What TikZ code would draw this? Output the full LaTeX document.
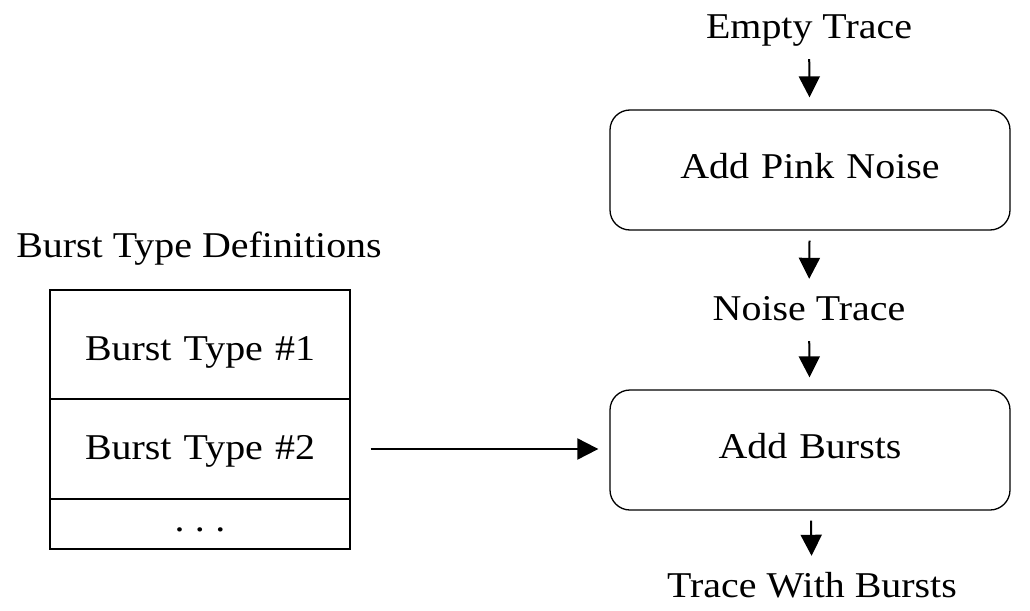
\documentclass[tikz,border=0pt]{standalone}
\usepackage{fontspec}
\setmainfont[FakeStretch=1.1]{Liberation Serif}
\usetikzlibrary{arrows.meta}
\tikzset{
  lbl/.style={inner sep=0pt, anchor=base, text height=41pt, text depth=21pt},
  procbox/.style={draw=black, line width=1.3pt, rounded corners=20pt, inner sep=0pt,
    anchor=base, text width=400pt, align=center, text height=68pt, text depth=52pt},
  cell/.style={draw=black, line width=1.1pt, inner sep=0pt, anchor=base,
    text width=300pt, align=center},
  flow/.style={line width=2pt, -{Triangle[length=21pt,width=21pt]}}
}
\begin{document}
\begin{tikzpicture}[x=1pt,y=-1pt,font=\fontsize{36.3}{43}\selectfont]
\useasboundingbox (0,0) rectangle (1030,610);
\node[lbl] (et) at (809,38) {Empty Trace};
\node[procbox] (b1) at (810,178) {Add Pink Noise};
\node[lbl] (nt) at (809,320) {Noise Trace};
\node[procbox] (b2) at (810,458) {Add Bursts};
\node[lbl] (tw) at (812,597) {Trace With Bursts};
\node[lbl] (bd) at (199,257) {Burst Type Definitions};
\node[cell, text height=70pt, text depth=39pt] (r1) at (200,360) {Burst Type \#1};
\node[cell, text height=60pt, text depth=40pt] (r2) at (200,459) {Burst Type \#2};
\node[cell, text height=32pt, text depth=18pt] (r3) at (200,531) {.\hspace{10.5pt}.\hspace{10.5pt}.};
\draw[flow, shorten >=12pt] (et) -- (b1);
\draw[flow, shorten <=10pt, shorten >=0pt] (b1) -- (nt);
\draw[flow, shorten >=12pt] (nt) -- (b2);
\draw[flow, shorten <=10pt] (b2) -- (tw);
\draw[flow, shorten <=20pt, shorten >=11pt] (r2.east) -- (r2.east -| b2.west);
\end{tikzpicture}
\end{document}
